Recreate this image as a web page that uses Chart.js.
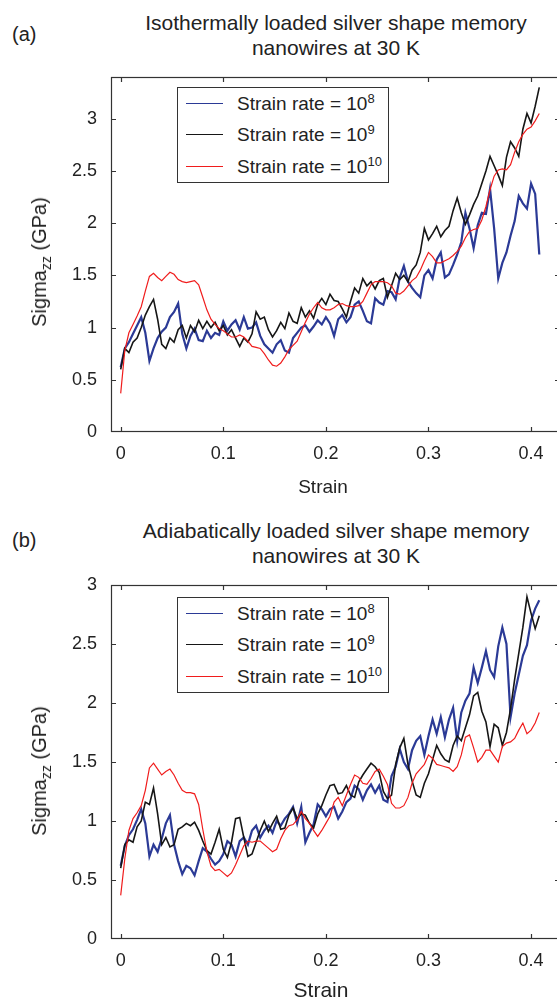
<!DOCTYPE html>
<html lang="en">
<head>
<meta charset="UTF-8">
<title>Silver shape memory nanowires at 30 K</title>
<script src="https://cdn.jsdelivr.net/npm/chart.js"></script>
<style>
  html, body { margin: 0; padding: 0; overflow: hidden; background: #fff; }
  body { width: 557px; height: 1002px; position: relative; font-family: "Liberation Sans", Arial, sans-serif; color: #222; }
  canvas { position: absolute; left: 0; }
  .tag { position: absolute; left: 12px; font-size: 20px; line-height: 22px; }
  .title { position: absolute; left: 136px; width: 400px; text-align: center; font-size: 21px; line-height: 25px; }
  .ylabel { position: absolute; font-size: 20px; white-space: nowrap; transform: translate(-50%, -50%) rotate(-90deg); }
  .ylabel sub { font-size: 14px; }
  .xlabel { position: absolute; transform: translate(-50%, -50%); white-space: nowrap; }
  .legend { position: absolute; left: 177px; width: 210px; height: 94px; border: 1.3px solid #333; background: #fff; }
  .legend .row { position: relative; height: 31.3px; }
  .legend .swatch { position: absolute; left: 8px; width: 37px; top: 15px; border-top: 1.5px solid; }
  .legend .txt { position: absolute; left: 59px; top: 0; font-size: 19px; line-height: 31px; white-space: nowrap; }
  .legend sup { font-size: 13px; vertical-align: 7px; line-height: 0; }
</style>
</head>
<body>
  <div class="tag" style="top:23px">(a)</div>
  <div class="title" style="top:10px">Isothermally loaded silver shape memory<br>nanowires at 30 K</div>
  <canvas id="chartA" width="570" height="500" style="top:0"></canvas>
  <div class="ylabel" style="left:41px; top:262px">Sigma<sub>zz</sub> (GPa)</div>
  <div class="xlabel" style="left:323px; top:487px; font-size:19px">Strain</div>
  <div class="legend" id="legendA" style="top:87px"></div>

  <div class="tag" style="top:529px">(b)</div>
  <div class="title" style="top:518px">Adiabatically loaded silver shape memory<br>nanowires at 30 K</div>
  <canvas id="chartB" width="570" height="502" style="top:500px"></canvas>
  <div class="ylabel" style="left:41px; top:771px">Sigma<sub>zz</sub> (GPa)</div>
  <div class="xlabel" style="left:321px; top:990px; font-size:21px">Strain</div>
  <div class="legend" id="legendB" style="top:597px"></div>

<script>
// strain sampled every 0.004 from 0 to 0.408
const strainStep = 0.004;
const strainTicks = [0, 0.1, 0.2, 0.3, 0.4];
const stressTicks = [0, 0.5, 1, 1.5, 2, 2.5, 3];
const rateExponents = [8, 9, 10];

// (a) isothermal loading, Sigma_zz in GPa
const isoRate8 = [.62,.80,.86,.94,1.02,1.10,.95,.68,.80,.90,
  .96,1.00,1.10,1.15,1.23,.94,.80,.92,.99,.88,
  .87,.97,.90,.95,.93,1.06,.97,1.03,1.07,.98,
  1.10,.99,1.00,1.05,.92,.84,.80,.76,.84,.88,
  .78,.76,.90,.95,1.00,1.02,.96,1.01,1.07,1.03,
  1.10,1.04,.92,1.08,1.12,1.05,1.10,1.22,1.25,1.16,
  1.06,1.04,1.28,1.24,1.22,1.35,1.34,1.27,1.48,1.59,
  1.44,1.38,1.33,1.29,1.50,1.55,1.47,1.65,1.72,1.48,
  1.51,1.60,1.70,1.82,2.10,1.95,1.76,1.98,2.10,2.09,
  2.33,1.95,1.47,1.62,1.72,1.88,2.02,2.26,2.19,2.14,
  2.38,2.28,1.70];
const isoRate9 = [.60,.80,.76,.86,.90,1.00,1.12,1.20,1.27,1.08,
  .84,.80,.90,.86,.98,1.02,.90,1.02,.96,1.07,
  .99,1.06,1.00,1.05,.97,1.02,.93,.98,.90,.82,
  .90,.86,.94,1.15,1.08,1.10,.98,.91,.97,1.05,
  .99,1.14,1.06,1.04,1.19,1.10,1.16,1.09,1.22,1.28,
  1.22,1.32,1.26,1.25,1.18,1.10,1.25,1.38,1.33,1.47,
  1.40,1.44,1.37,1.45,1.47,1.29,1.40,1.52,1.46,1.50,
  1.44,1.55,1.60,1.72,1.95,1.84,1.90,1.97,1.87,1.93,
  1.97,2.12,2.24,2.10,1.99,2.08,2.18,2.26,2.38,2.50,
  2.64,2.55,2.46,2.36,2.63,2.78,2.72,2.64,2.90,3.05,
  2.96,3.12,3.30];
const isoRate10 = [.37,.78,.95,1.03,1.11,1.20,1.35,1.49,1.52,1.48,
  1.45,1.49,1.53,1.51,1.46,1.44,1.43,1.44,1.45,1.41,
  1.29,1.17,1.08,1.03,.99,.97,.94,.91,.91,.93,
  .91,.87,.82,.81,.80,.75,.69,.64,.63,.66,
  .72,.79,.83,.87,.96,1.05,1.13,1.19,1.24,1.19,
  1.17,1.17,1.19,1.22,1.23,1.21,1.20,1.20,1.21,1.25,
  1.33,1.41,1.44,1.44,1.44,1.43,1.40,1.33,1.32,1.35,
  1.40,1.45,1.48,1.55,1.64,1.72,1.68,1.62,1.62,1.64,
  1.66,1.69,1.73,1.78,1.86,1.92,1.94,1.95,2.03,2.16,
  2.32,2.45,2.51,2.52,2.51,2.56,2.68,2.78,2.85,2.90,
  2.92,2.98,3.05];

// (b) adiabatic loading
const adiRate8 = [.62,.79,.88,.93,1.01,1.10,.98,.70,.80,.74,
  .85,.98,1.05,.80,.66,.55,.62,.60,.54,.66,
  .77,.74,.68,.63,.66,.72,.83,.80,.70,.83,
  .86,.80,.92,.96,.86,.92,.96,.90,1.00,.96,
  1.02,1.06,1.12,.98,1.12,.82,.90,.97,1.14,1.10,
  1.04,1.10,1.12,1.02,1.08,1.16,1.19,1.30,1.27,1.18,
  1.26,1.31,1.24,1.30,1.18,1.16,1.38,1.46,1.61,1.50,
  1.44,1.60,1.68,1.72,1.56,1.72,1.86,1.74,1.88,1.71,
  1.86,1.96,1.68,1.92,2.02,2.08,2.30,2.17,2.30,2.44,
  2.28,2.22,2.48,2.64,2.50,1.88,2.08,2.24,2.40,2.49,
  2.70,2.80,2.87];
const adiRate9 = [.60,.80,.84,.82,.95,1.00,1.16,1.14,1.28,1.06,
  .80,.86,.78,.80,.93,.95,.98,.96,.99,.92,
  .83,.75,.72,.82,.93,.76,.69,.82,1.02,1.03,
  .86,.70,.72,.82,.92,1.00,.91,.98,1.04,.93,
  .94,1.05,1.11,1.02,1.06,1.05,.98,.94,1.06,1.13,
  1.22,1.30,1.31,1.23,1.24,1.30,1.22,1.20,1.33,1.39,
  1.44,1.49,1.46,1.41,1.25,1.19,1.22,1.48,1.62,1.70,
  1.48,1.34,1.22,1.20,1.32,1.40,1.52,1.64,1.57,1.52,
  1.50,1.64,1.72,1.68,1.79,1.90,2.06,2.09,1.93,1.84,
  1.63,1.82,1.79,1.64,1.75,1.95,2.20,2.42,2.64,2.90,
  2.76,2.63,2.74];
const adiRate10 = [.37,.68,.92,1.02,1.07,1.13,1.26,1.45,1.49,1.44,
  1.39,1.42,1.44,1.39,1.32,1.26,1.24,1.24,1.23,1.14,
  .93,.74,.62,.58,.59,.56,.53,.56,.63,.71,
  .79,.83,.82,.83,.83,.80,.77,.74,.76,.85,
  .92,.96,.97,1.01,1.08,1.02,.98,.92,.87,.92,
  .98,1.04,1.16,1.20,1.13,1.22,1.31,1.39,1.37,1.32,
  1.31,1.36,1.42,1.44,1.38,1.31,1.15,1.11,1.11,1.13,
  1.20,1.32,1.40,1.44,1.48,1.56,1.53,1.48,1.47,1.46,
  1.45,1.42,1.46,1.56,1.71,1.73,1.62,1.50,1.54,1.60,
  1.60,1.55,1.50,1.63,1.66,1.67,1.70,1.77,1.83,1.74,
  1.77,1.83,1.92];

const lineColors = ['#2b3a96', '#161616', '#f01c1c'];
const lineWidths = [2.2, 1.6, 1.2];
const FONT = '"Liberation Sans", Arial, sans-serif';

const toPoints = vals => vals.map((v, i) => ({ x: +(i * strainStep).toFixed(3), y: v }));

// box around the plot with inward ticks on all four sides
const frameTicks = {
  id: 'frameTicks',
  afterDatasetsDraw(chart) {
    const { ctx, chartArea: a, scales: { x, y } } = chart;
    ctx.save();
    ctx.strokeStyle = '#333';
    ctx.lineWidth = 1.2;
    ctx.strokeRect(a.left + 0.5, a.top + 0.5, a.right - a.left - 1, a.bottom - a.top - 1);
    ctx.beginPath();
    strainTicks.forEach(v => {
      const px = Math.round(x.getPixelForValue(v)) + 0.5;
      ctx.moveTo(px, a.bottom); ctx.lineTo(px, a.bottom - 5);
      ctx.moveTo(px, a.top); ctx.lineTo(px, a.top + 5);
    });
    stressTicks.forEach(v => {
      const py = Math.round(y.getPixelForValue(v)) + 0.5;
      if (py < a.top + 1 || py > a.bottom - 1) return;
      ctx.moveTo(a.left, py); ctx.lineTo(a.left + 5, py);
      ctx.moveTo(a.right, py); ctx.lineTo(a.right - 5, py);
    });
    ctx.stroke();
    ctx.restore();
  }
};

function makeChart(id, series, yMax, top, axisHeight) {
  new Chart(document.getElementById(id), {
    type: 'line',
    data: {
      datasets: series.map((vals, k) => ({
        data: toPoints(vals),
        borderColor: lineColors[k],
        borderWidth: lineWidths[k],
        pointRadius: 0,
        tension: 0,
        borderJoinStyle: 'miter',
        order: 2 - k
      }))
    },
    options: {
      responsive: false,
      animation: false,
      events: [],
      layout: { padding: { left: 0, right: 10, top: top, bottom: 0 } },
      plugins: { legend: { display: false }, tooltip: { enabled: false } },
      scales: {
        x: {
          type: 'linear', min: -0.00945, max: 0.4282,
          grid: { display: false, drawTicks: false }, border: { display: false },
          afterBuildTicks: s => { s.ticks = strainTicks.map(v => ({ value: v })); },
          afterFit: s => { s.height = axisHeight; },
          ticks: { padding: 11, color: '#222', font: { family: FONT, size: 18 }, callback: v => String(v), maxRotation: 0 }
        },
        y: {
          min: 0, max: yMax,
          grid: { display: false, drawTicks: false }, border: { display: false },
          afterBuildTicks: s => { s.ticks = stressTicks.map(v => ({ value: v })); },
          afterFit: s => { s.width = 111; },
          ticks: { padding: 14, color: '#222', font: { family: FONT, size: 18 }, callback: v => String(v) }
        }
      }
    },
    plugins: [frameTicks]
  });
}

function makeLegend(id) {
  const box = document.getElementById(id);
  rateExponents.forEach((e, k) => {
    const row = document.createElement('div');
    row.className = 'row';
    row.innerHTML = '<div class="swatch" style="border-color:' + lineColors[k] + '"></div>' +
      '<div class="txt">Strain rate = 10<sup>' + e + '</sup></div>';
    box.appendChild(row);
  });
}

makeChart('chartA', [isoRate8, isoRate9, isoRate10], 3.4, 77, 68);
makeChart('chartB', [adiRate8, adiRate9, adiRate10], 3, 85, 63);
makeLegend('legendA');
makeLegend('legendB');
</script>
</body>
</html>
